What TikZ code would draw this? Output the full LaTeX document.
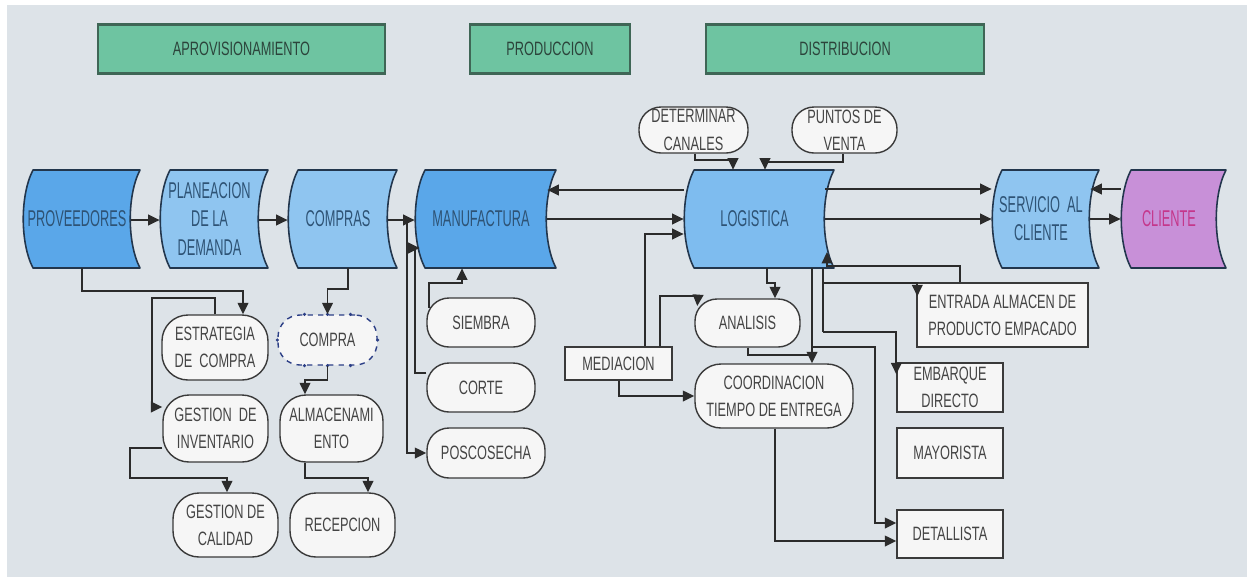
\documentclass[tikz,border=0pt]{standalone}
\usepackage{fontspec}
\setmainfont{Liberation Sans}
\newfontfamily\pfont{Liberation Sans}[FakeStretch=0.56]
\newfontfamily\wfont{Liberation Sans}[FakeStretch=0.66]
\usetikzlibrary{arrows.meta,calc}
\definecolor{bgc}{HTML}{DDE3E8}
\definecolor{hdrfill}{HTML}{6EC4A1}
\definecolor{hdredge}{HTML}{3F6656}
\definecolor{hdrtext}{HTML}{2C443B}
\definecolor{procDark}{HTML}{5AA7E9}
\definecolor{procLight}{HTML}{8FC5F0}
\definecolor{procMid}{HTML}{7EBCEF}
\definecolor{procedge}{HTML}{22364D}
\definecolor{procText}{HTML}{2E5375}
\definecolor{cliFill}{HTML}{C890D8}
\definecolor{cliText}{HTML}{C4378B}
\definecolor{wfill}{HTML}{F6F6F6}
\definecolor{wedge}{HTML}{3A3A3A}
\definecolor{wtext}{HTML}{444444}
\definecolor{linec}{HTML}{2B2B2B}
\definecolor{cdotc}{HTML}{2C3F86}
\newcommand\procnode[5]{%
  \path[fill=#4, draw=procedge, line width=0.9pt, line join=round]
    (#2+10,170) -- (#3,170)
    .. controls (#3-13,195) and (#3-13,243) .. (#3,268)
    -- (#2+10,268)
    .. controls (#2-3,243) and (#2-3,195) .. (#2+10,170) -- cycle;
  \node[proctext, minimum width={(#3-9-#2)*0.02cm}, minimum height=1.96cm] (#1) at ({(#2+#3-9)/2},219) {#5};
}
\begin{document}
\begin{tikzpicture}[x=0.02cm,y=-0.02cm,
  sz/.style 2 args={minimum width={#1*0.02cm}, minimum height={#2*0.02cm}},
  proctext/.style={inner sep=0pt, align=center, font=\pfont\fontsize{13}{16}\selectfont, text=procText},
  hdr/.style={draw=hdredge, fill=hdrfill, line width=0.6pt, inner sep=0pt, font=\wfont\fontsize{11}{13}\selectfont, text=hdrtext},
  hdrbar/.style={draw=hdredge, line width=1.6pt},
  wbox/.style={draw=wedge, fill=wfill, line width=0.8pt, rounded corners=0.44cm, align=center, inner sep=0pt, font=\wfont\fontsize{11}{15.5}\selectfont, text=wtext},
  bigr/.style={rounded corners=0.52cm},
  rbox/.style={draw=wedge, fill=wfill, line width=0.8pt, align=center, inner sep=0pt, font=\wfont\fontsize{11}{15.5}\selectfont, text=wtext},
  cbox/.style={wbox, draw=cdotc, dashed},
  cdot/.style={fill=cdotc},
  line/.style={draw=linec, line width=1.1pt},
  arr/.style={line, -{Triangle[length=6.5pt,width=6pt]}}
]
\useasboundingbox (0,0) rectangle (1250,579);
\fill[white] (0,0) rectangle (1250,579);
\fill[bgc] (7,5) rectangle (1247,577);

% headers
\node[hdr, sz={287}{48}] (h1) at (241.5,49) {APROVISIONAMIENTO};
\node[hdr, sz={160}{48}] (h2) at (550,49) {PRODUCCION};
\node[hdr, sz={278}{48}] (h3) at (845,49) {DISTRIBUCION};
\foreach \h in {h1,h2,h3} {
  \draw[hdrbar] (\h.north west) -- (\h.north east);
  \draw[hdrbar] (\h.south west) -- (\h.south east);
}

% main process row
\procnode{prov}{23}{140}{procDark}{PROVEEDORES}
\procnode{plan}{160}{268}{procLight}{PLANEACION\\DE LA\\DEMANDA}
\procnode{compras}{288}{397}{procLight}{COMPRAS}
\procnode{manu}{415}{556}{procDark}{MANUFACTURA}
\procnode{logi}{684}{834}{procMid}{LOGISTICA}
\procnode{serv}{992}{1099}{procLight}{SERVICIO\ \ AL\\CLIENTE}
\procnode{cli}{1121}{1226}{cliFill}{\textcolor{cliText}{CLIENTE}}

% white rounded nodes
\node[wbox, bigr, sz={106}{65}] (estr) at (215,347.5) {ESTRATEGIA\\DE\ \ COMPRA};
\node[cbox, sz={99}{50}] (compra) at (327.5,340) {COMPRA};
\node[wbox, bigr, sz={105}{67}] (gest) at (215.5,428.5) {GESTION\ \ DE\\INVENTARIO};
\node[wbox, bigr, sz={103}{67}] (alma) at (331.5,428.5) {ALMACENAMI\\ENTO};
\node[wbox, bigr, sz={105}{64}] (cal) at (225.5,525) {GESTION DE\\CALIDAD};
\node[wbox, bigr, sz={105}{64}] (rec) at (342.5,525) {RECEPCION};
\node[wbox, sz={108}{49}] (siem) at (481,322.5) {SIEMBRA};
\node[wbox, sz={108}{49}] (corte) at (481,387.5) {CORTE};
\node[wbox, sz={118}{50}] (pos) at (486,453) {POSCOSECHA};
\node[wbox, sz={105}{48}] (anal) at (747.5,323) {ANALISIS};
\node[wbox, bigr, sz={158}{64}] (coord) at (774,396) {COORDINACION\\TIEMPO DE ENTREGA};
\node[wbox, sz={109}{46}] (det) at (693.5,130) {DETERMINAR\\CANALES};
\node[wbox, sz={105}{46}] (pun) at (844.5,130) {PUNTOS DE\\VENTA};

% rectangles
\node[rbox, sz={107}{33}] (med) at (618.5,363.5) {MEDIACION};
\node[rbox, sz={171}{64}] (entr) at (1002.5,315) {ENTRADA ALMACEN DE\\PRODUCTO EMPACADO};
\node[rbox, sz={106}{49}] (emb) at (950,387.5) {EMBARQUE\\DIRECTO};
\node[rbox, sz={106}{50}] (may) at (950,453) {MAYORISTA};
\node[rbox, sz={106}{48}] (detal) at (950,534) {DETALLISTA};

% selection handles on COMPRA
\foreach \dx in {-23,0,23} {
  \fill[cdot] ($(compra.north)+(\dx,0)$) circle[radius=0.035cm];
  \fill[cdot] ($(compra.south)+(\dx,0)$) circle[radius=0.035cm];
}
\fill[cdot] (compra.west) circle[radius=0.035cm];
\fill[cdot] (compra.east) circle[radius=0.035cm];

% main row connectors
\draw[arr] (prov.east |- 0,220) -- (plan.west |- 0,220);
\draw[arr] (plan.east |- 0,220) -- (compras.west |- 0,220);
\draw[arr] (compras.east |- 0,220) -- (manu.west |- 0,220);
\draw[arr] (manu.east |- 0,219) -- (logi.west |- 0,219);
\draw[arr] (logi.west |- 0,190) -- (manu.east |- 0,190);
\draw[arr] (logi.east |- 0,189) -- (serv.west |- 0,189);
\draw[arr] (logi.east |- 0,219) -- (serv.west |- 0,219);
\draw[arr] (cli.west |- 0,189) -- (serv.east |- 0,189);
\draw[arr] (serv.east |- 0,219) -- (cli.west |- 0,219);

% aprovisionamiento connectors
\draw[arr] (prov.south -| 82,0) |- (243,291) -- (estr.north -| 243,0);
\draw[arr] (estr.north -| 215,0) |- (152,298) |- (gest.west |- 0,407);
\draw[arr] (compras.south -| 348,0) |- (327.5,289) -- (compra.north);
\draw[arr] (compra.south) |- (305,380) -- (alma.north -| 305,0);
\draw[arr] (gest.west |- 0,448) -| (130,478) -| (cal.north -| 227,0);
\draw[arr] (alma.south -| 305,0) |- (368,478) -- (rec.north -| 368,0);

% produccion connectors
\coordinate (j1) at (407,220);
\draw[arr] (j1) |- (pos.west);
\draw[arr] (corte.west |- 0,373) -| (415,248) -- ($(manu.west |- 0,248)+(5,0)$);
\draw[arr] ($(siem.west)+(3,-15)$) |- (462,283) -- (manu.south -| 462,0);

% distribucion connectors
\draw[arr] (det.south -| 695,0) |- (733,160) -- (logi.north -| 733,0);
\draw[arr] (pun.south -| 843,0) |- (765,162) -- (logi.north -| 765,0);
\draw[arr] (med.north -| 645,0) |- (logi.west |- 0,234);
\draw[arr] (med.north -| 660,0) |- (698,296) -- ($(anal.west)+(3,-17)$);
\draw[arr] (logi.south -| 767,0) |- (775,283) -- (anal.north -| 775,0);
\draw[arr] (med.south -| 619,0) |- (coord.west);
\draw[arr] (logi.south -| 812,0) -- (coord.north -| 812,0);
\draw[line] (anal.south -| 748,0) |- (812,355);
\coordinate (j2) at (812,347);
\draw[arr] (j2) -| (875,523) -- (detal.west |- 0,523);
\draw[arr] (coord.south -| 775,0) |- (detal.west |- 0,541);
\draw[arr] (entr.north -| 960,0) |- (827,266) -- (827,252);
\draw[line] (logi.south -| 823,0) -- (823,332);
\draw[arr] (823,283) -| ($(entr.north west)+(1,14)$);
\draw[arr] (823,332) -| ($(emb.north west)+(0,12)$);
\end{tikzpicture}
\end{document}
